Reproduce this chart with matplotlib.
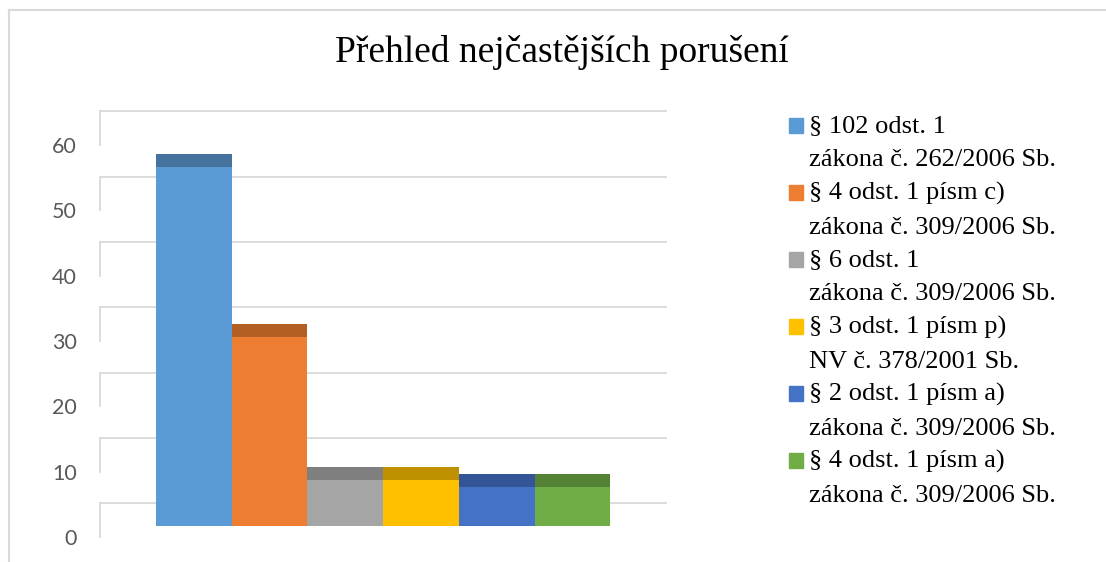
import matplotlib
matplotlib.use("Agg")
import matplotlib.pyplot as plt
from matplotlib.patches import Rectangle
from matplotlib.lines import Line2D

# data
labels = ["§ 102 odst. 1\nzákona č. 262/2006 Sb.",
          "§ 4 odst. 1 písm c)\nzákona č. 309/2006 Sb.",
          "§ 6 odst. 1\nzákona č. 309/2006 Sb.",
          "§ 3 odst. 1 písm p)\nNV č. 378/2001 Sb.",
          "§ 2 odst. 1 písm a)\nzákona č. 309/2006 Sb.",
          "§ 4 odst. 1 písm a)\nzákona č. 309/2006 Sb."]
values = [55, 29, 7, 7, 6, 6]
yticks = [0, 10, 20, 30, 40, 50, 60]

front = ["#5B9BD5", "#ED7D31", "#A5A5A5", "#FFC000", "#4472C4", "#70AD47"]
top = ["#46739E", "#B35E22", "#7F7F7F", "#BF9000", "#335496", "#548235"]

W, H = 1106, 562
s = 6.53          # px per unit
zero = 36         # px from bottom where bars start
depth = 2.0       # top face of the bars (units)
back = 3.5        # back wall offset (units)
front_off = -1.68 # front labels offset (units)
grid_c = "#D9D9D9"

fig = plt.figure(figsize=(W / 100, H / 100), dpi=100)
ax = fig.add_axes([100 / W, 0, 567 / W, 1])
ax.set_xlim(-1.24, 6.25)
ax.set_ylim(-zero / s, (H - zero) / s)
for sp in ax.spines.values():
    sp.set_visible(False)
ax.set_xticks([])

# walls / gridlines
x0, x1 = ax.get_xlim()
for t in yticks:
    ax.plot([x0, x1], [t + back] * 2, color=grid_c, lw=1.3, zorder=1, solid_capstyle="butt")
    ax.plot([x0, x0], [t + front_off, t + back], color=grid_c, lw=1.3, zorder=1, clip_on=False)

x = range(len(values))
ax.bar(x, values, width=1, color=front, zorder=3)
ax.bar(x, [depth] * len(values), bottom=values, width=1, color=top, zorder=3)

ax.set_yticks([t + front_off for t in yticks])
ax.set_yticklabels([str(t) for t in yticks])
ax.tick_params(axis="y", length=0, pad=16.5, labelsize=15.5, labelcolor="#595959")
for lab in ax.get_yticklabels():
    lab.set_fontfamily("Lato")

fig.text(562 / W, 1 - 52 / H, "Přehled nejčastějších porušení", ha="center", va="center",
         fontsize=27, family="Liberation Serif")

# legend
for i, (lab, c) in enumerate(zip(labels, front)):
    yc = 125 + 67 * i
    fig.add_artist(Rectangle((789 / W, 1 - (yc + 8) / H), 14 / W, 15 / H,
                             color=c, transform=fig.transFigure))
    fig.text(809 / W, 1 - (yc - 10) / H, lab, ha="left", va="top", fontsize=19,
             family="Liberation Serif", linespacing=1.68)

# chart border
fig.add_artist(Line2D([8.5 / W, 1], [1 - 10 / H] * 2, color=grid_c, lw=1.5, transform=fig.transFigure))
fig.add_artist(Line2D([8.5 / W] * 2, [0, 1 - 10 / H], color=grid_c, lw=1.5, transform=fig.transFigure))

fig.savefig("out.png", dpi=100)
